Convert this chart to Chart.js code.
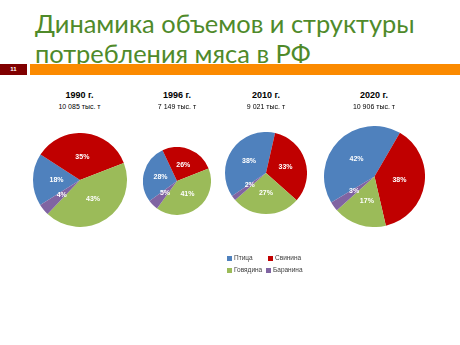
<!DOCTYPE html>
<html><head><meta charset="utf-8">
<script src="https://cdn.jsdelivr.net/npm/chart.js@4.4.1/dist/chart.umd.min.js"></script>
<style>
html,body{margin:0;padding:0}
body{width:460px;height:345px;background:#fff;position:relative;overflow:hidden;font-family:"Liberation Sans",Arial,sans-serif}
.abs{position:absolute}
.tl{left:35px;color:#4f8a2a;font-family:Lato,"Open Sans",sans-serif;white-space:nowrap;line-height:30px;height:30px}
#bar{left:30px;top:64px;width:430px;height:11px;background:#fb8a00}
#num{left:0;top:64px;width:27px;height:11px;background:#800000;color:#fff;font:bold 6px "Liberation Sans",sans-serif;text-align:center;line-height:11px}
.yr{width:120px;text-align:center;color:#000;font-weight:bold;font-size:9px;line-height:10px}
.vol{width:120px;text-align:center;color:#000;font-size:7px;line-height:8px}
.lg{font-size:6.5px;color:#404040;line-height:8px;white-space:nowrap}
.sq{display:inline-block;width:5px;height:5px;margin-right:2px;vertical-align:-0.5px}
</style></head>
<body>
<div class="abs tl" id="t1" style="top:8px">Динамика объемов и структуры</div>
<div class="abs tl" id="t2" style="top:38px">потребления мяса в РФ</div>
<div class="abs" id="bar"></div>
<div class="abs" id="num">11</div>
<div id="charts"></div>
<div id="legend"></div>
<script>
// ---- data ----
const categories = ["Птица", "Свинина", "Говядина", "Баранина"];
const years = ["1990 г.", "1996 г.", "2010 г.", "2020 г."];
const volumes = ["10 085 тыс. т", "7 149 тыс. т", "9 021 тыс. т", "10 906 тыс. т"];
const share1990 = [18, 35, 43, 4];
const share1996 = [28, 26, 41, 5];
const share2010 = [38, 33, 27, 2];
const share2020 = [42, 38, 17, 3];
const colors = ["#4f81bd", "#c00000", "#9bbb59", "#8064a2"];

// ---- layout (pixels) ----
const pies = [
  {data: share1990, cx: 79.5, cy: 180, d: 94, rot: 238},
  {data: share1996, cx: 177, cy: 181, d: 68, rot: 234},
  {data: share2010, cx: 266, cy: 172.5, d: 82, rot: 236},
  {data: share2020, cx: 374, cy: 176.5, d: 101, rot: 239}
];

// fit title width
(function(){
  const c = document.createElement('canvas').getContext('2d');
  c.font = '28px Lato';
  const w = c.measureText('Динамика объемов и структуры').width;
  const fs = 28 * 380 / w;
  document.getElementById('t1').style.fontSize = fs + 'px';
  document.getElementById('t2').style.fontSize = fs + 'px';
})();

const labelPlugin = {
  id: 'pctLabels',
  afterDatasetsDraw(chart) {
    const ctx = chart.ctx;
    const meta = chart.getDatasetMeta(0);
    ctx.save();
    ctx.fillStyle = '#fff';
    ctx.font = 'bold 7px "Liberation Sans", Arial, sans-serif';
    ctx.textAlign = 'center';
    ctx.textBaseline = 'middle';
    meta.data.forEach((arc, i) => {
      const p = arc.tooltipPosition();
      ctx.fillText(chart.data.datasets[0].data[i] + '%', p.x, p.y);
    });
    ctx.restore();
  }
};

const holder = document.getElementById('charts');
pies.forEach((p, k) => {
  const yr = document.createElement('div');
  yr.className = 'abs yr'; yr.textContent = years[k];
  yr.style.left = (p.cx - 60) + 'px'; yr.style.top = '90px';
  holder.appendChild(yr);
  const vol = document.createElement('div');
  vol.className = 'abs vol'; vol.textContent = volumes[k];
  vol.style.left = (p.cx - 60) + 'px'; vol.style.top = '103px';
  holder.appendChild(vol);

  const cv = document.createElement('canvas');
  cv.width = p.d; cv.height = p.d;
  cv.className = 'abs';
  cv.style.left = (p.cx - p.d / 2) + 'px';
  cv.style.top = (p.cy - p.d / 2) + 'px';
  cv.style.width = p.d + 'px'; cv.style.height = p.d + 'px';
  holder.appendChild(cv);
  new Chart(cv, {
    type: 'pie',
    data: {labels: categories, datasets: [{data: p.data, backgroundColor: colors, borderWidth: 0}]},
    options: {
      responsive: false, animation: false, rotation: p.rot,
      layout: {padding: 0},
      plugins: {legend: {display: false}, tooltip: {enabled: false}}
    },
    plugins: [labelPlugin]
  });
});

// legend
const lg = document.getElementById('legend');
const lpos = [[227, 254], [268, 254], [227, 266], [266, 266]];
categories.forEach((c, i) => {
  const el = document.createElement('div');
  el.className = 'abs lg';
  el.style.left = lpos[i][0] + 'px'; el.style.top = lpos[i][1] + 'px';
  el.innerHTML = '<span class="sq" style="background:' + colors[i] + '"></span>' + c;
  lg.appendChild(el);
});
</script>
</body></html>
